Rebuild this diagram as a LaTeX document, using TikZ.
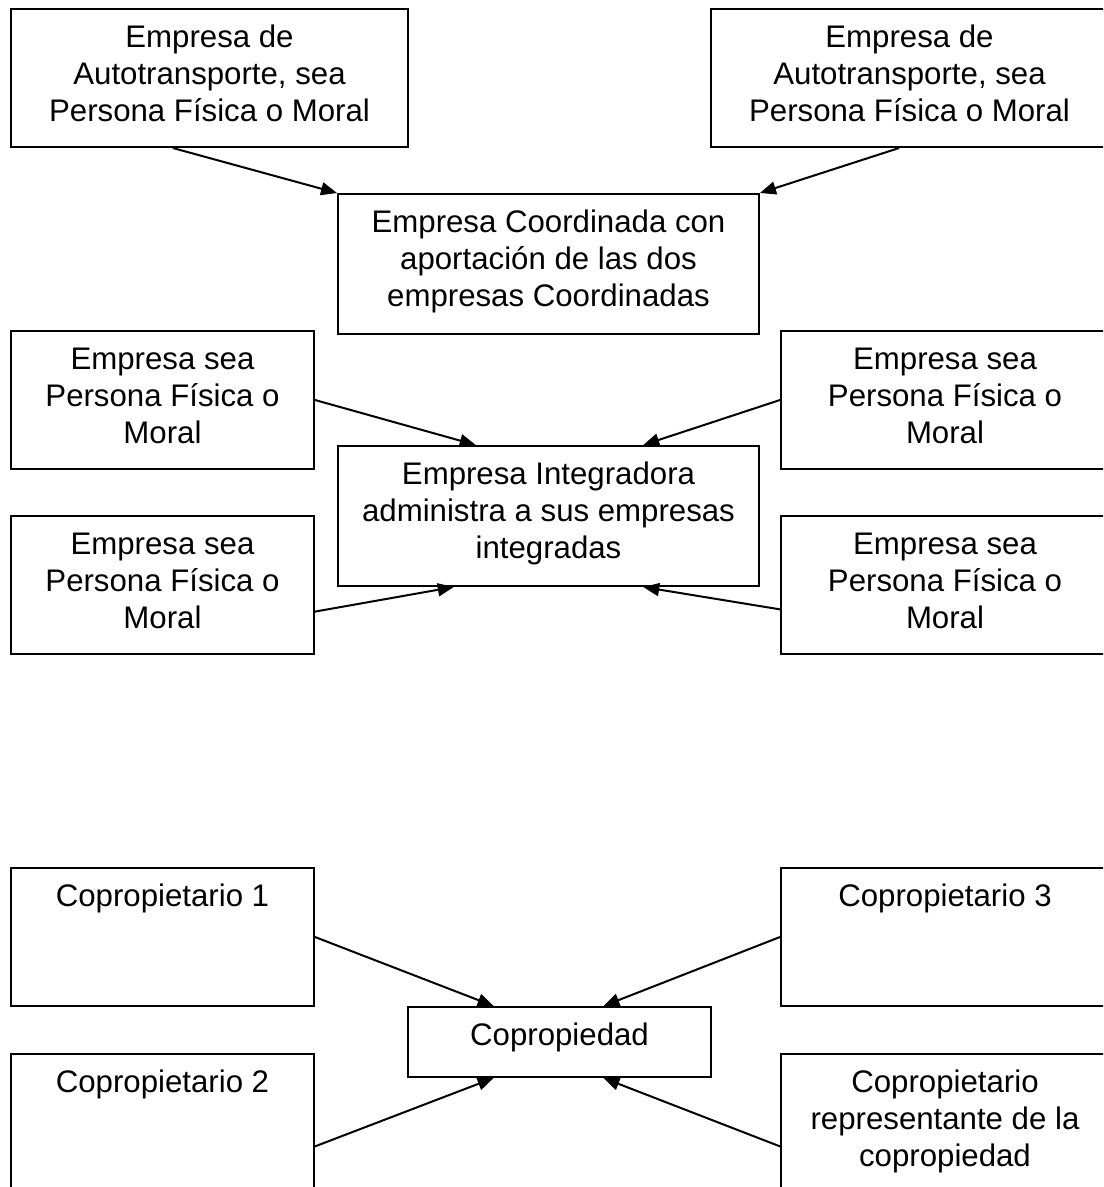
\documentclass[tikz,border=0pt]{standalone}
\usepackage{fontspec}
\setmainfont{Liberation Sans}
\usetikzlibrary{arrows.meta,calc}

\newcommand{\boxtext}[3]{\parbox[c][#2][t]{#1}{\centering\vspace*{6.6pt}\strut#3\par}}

\tikzset{
  cajita/.style={draw, line width=1pt, inner sep=0pt, anchor=north west},
  flecha/.style={line width=1pt, -{Triangle[length=8pt,width=6.5pt]}}
}

\begin{document}
\begin{tikzpicture}[x=0.5pt,y=-0.5pt,font=\fontsize{15.6}{18.3}\selectfont]
\useasboundingbox (0,0) rectangle (1103,1187);
\clip (0,0) rectangle (1103,1187);

% empresas coordinadas
\node[cajita] (tl) at (10,8) {\boxtext{198.5pt}{69pt}{Empresa de\\Autotransporte, sea\\Persona Física o Moral}};
\node[cajita] (tr) at (710,8) {\boxtext{198.5pt}{69pt}{Empresa de\\Autotransporte, sea\\Persona Física o Moral}};
\node[cajita] (coord) at (337,193) {\boxtext{210.5pt}{70pt}{Empresa Coordinada con\\aportación de las dos\\empresas Coordinadas}};

\draw[flecha] ($(tl.south west)!0.408!(tl.south east)$) -- (coord.north west);
\draw[flecha] ($(tr.south west)!0.474!(tr.south east)$) -- (coord.north east);

% empresa integradora
\node[cajita] (ml1) at (10,330) {\boxtext{151.5pt}{69pt}{Empresa sea\\Persona Física o\\Moral}};
\node[cajita] (ml2) at (10,515) {\boxtext{151.5pt}{69pt}{Empresa sea\\Persona Física o\\Moral}};
\node[cajita] (mr1) at (780,330) {\boxtext{164pt}{69pt}{Empresa sea\\Persona Física o\\Moral}};
\node[cajita] (mr2) at (780,515) {\boxtext{164pt}{69pt}{Empresa sea\\Persona Física o\\Moral}};
\node[cajita] (integ) at (337,445) {\boxtext{210.5pt}{70pt}{Empresa Integradora\\administra a sus empresas\\integradas}};

\draw[flecha] (ml1.east) -- ($(integ.north west)!0.328!(integ.north east)$);
\draw[flecha] (mr1.west) -- ($(integ.north west)!0.724!(integ.north east)$);
\draw[flecha] ($(ml2.north east)!0.69!(ml2.south east)$) -- ($(integ.south west)!0.276!(integ.south east)$);
\draw[flecha] ($(mr2.north west)!0.674!(mr2.south west)$) -- ($(integ.south west)!0.724!(integ.south east)$);

% copropiedad
\node[cajita] (c1) at (10,867) {\boxtext{151.5pt}{69pt}{Copropietario 1}};
\node[cajita] (c3) at (780,867) {\boxtext{164pt}{69pt}{Copropietario 3}};
\node[cajita] (coprop) at (407,1006) {\boxtext{151.5pt}{35pt}{Copropiedad}};
\node[cajita] (c2) at (10,1053) {\boxtext{151.5pt}{69pt}{Copropietario 2}};
\node[cajita] (c4) at (780,1053) {\boxtext{164pt}{69pt}{Copropietario\\representante de la\\copropiedad}};

\draw[flecha] (c1.east) -- ($(coprop.north west)!0.284!(coprop.north east)$);
\draw[flecha] (c3.west) -- ($(coprop.north west)!0.644!(coprop.north east)$);
\draw[flecha] ($(c2.north east)!0.667!(c2.south east)$) -- ($(coprop.south west)!0.284!(coprop.south east)$);
\draw[flecha] ($(c4.north west)!0.667!(c4.south west)$) -- ($(coprop.south west)!0.644!(coprop.south east)$);

\end{tikzpicture}
\end{document}
